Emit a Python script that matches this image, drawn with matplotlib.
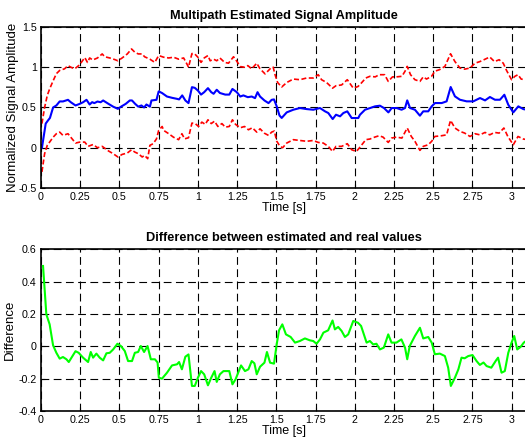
import numpy as np
import matplotlib
matplotlib.use("Agg")
from matplotlib import pyplot as plt

plt.rcParams["font.family"] = ["Liberation Sans", "DejaVu Sans"]

# estimated amplitude (blue)
est_t = [0.006, 0.03, 0.045, 0.057, 0.077, 0.098, 0.119, 0.14, 0.172, 0.19, 0.22, 0.247,
         0.268, 0.29, 0.31, 0.326, 0.34, 0.36, 0.38, 0.396, 0.43, 0.46, 0.49, 0.51, 0.54,
         0.566, 0.58, 0.60, 0.62, 0.64, 0.657, 0.672, 0.694, 0.704, 0.736, 0.75, 0.771,
         0.803, 0.835, 0.867, 0.88, 0.90, 0.92, 0.94, 0.962, 0.98, 1.0, 1.02, 1.04, 1.064,
         1.085, 1.10, 1.12, 1.14, 1.174, 1.2, 1.22, 1.248, 1.27, 1.29, 1.318, 1.343, 1.364,
         1.38, 1.396, 1.424, 1.45, 1.47, 1.485, 1.502, 1.52, 1.534, 1.566, 1.608, 1.65,
         1.693, 1.735, 1.778, 1.81, 1.831, 1.859, 1.88, 1.906, 1.927, 1.952, 1.98, 2.022,
         2.033, 2.065, 2.097, 2.129, 2.16, 2.186, 2.214, 2.235, 2.267, 2.298, 2.32, 2.334,
         2.352, 2.383, 2.415, 2.436, 2.468, 2.49, 2.511, 2.554, 2.585, 2.611, 2.638, 2.67,
         2.713, 2.755, 2.798, 2.83, 2.861, 2.893, 2.925, 2.953, 2.978, 3.01, 3.042, 3.074,
         3.1]
est_v = [0.0, 0.30, 0.34, 0.37, 0.50, 0.525, 0.575, 0.575, 0.595, 0.565, 0.525, 0.545,
         0.565, 0.595, 0.537, 0.566, 0.554, 0.574, 0.565, 0.587, 0.545, 0.51, 0.483, 0.51,
         0.545, 0.587, 0.587, 0.545, 0.51, 0.525, 0.50, 0.537, 0.51, 0.587, 0.595, 0.70,
         0.68, 0.636, 0.62, 0.607, 0.60, 0.65, 0.587, 0.554, 0.752, 0.744, 0.71, 0.66, 0.69,
         0.74, 0.69, 0.67, 0.72, 0.68, 0.66, 0.66, 0.73, 0.69, 0.636, 0.65, 0.628, 0.636,
         0.616, 0.69, 0.636, 0.587, 0.554, 0.595, 0.60, 0.515, 0.40, 0.37, 0.439, 0.472,
         0.493, 0.48, 0.472, 0.493, 0.452, 0.431, 0.356, 0.41, 0.39, 0.431, 0.452, 0.369,
         0.369, 0.41, 0.472, 0.493, 0.514, 0.522, 0.493, 0.439, 0.493, 0.493, 0.472, 0.493,
         0.588, 0.493, 0.472, 0.398, 0.452, 0.452, 0.514, 0.555, 0.555, 0.576, 0.754, 0.638,
         0.596, 0.576, 0.576, 0.617, 0.588, 0.63, 0.596, 0.596, 0.658, 0.534, 0.439, 0.514,
         0.48, 0.47]

# upper bound (red dashed)
up_t = [0.006, 0.023, 0.04, 0.055, 0.077, 0.098, 0.119, 0.15, 0.172, 0.19, 0.215, 0.24,
        0.257, 0.279, 0.296, 0.31, 0.33, 0.36, 0.39, 0.406, 0.438, 0.47, 0.49, 0.517, 0.55,
        0.577, 0.598, 0.62, 0.645, 0.66, 0.694, 0.725, 0.75, 0.782, 0.814, 0.845, 0.877,
        0.909, 0.93, 0.94, 0.962, 0.98, 1.0, 1.02, 1.04, 1.064, 1.078, 1.10, 1.12, 1.14,
        1.17, 1.195, 1.227, 1.248, 1.27, 1.297, 1.318, 1.343, 1.375, 1.396, 1.428, 1.45,
        1.47, 1.48, 1.49, 1.508, 1.534, 1.566, 1.608, 1.65, 1.693, 1.735, 1.767, 1.788,
        1.82, 1.858, 1.88, 1.916, 1.952, 1.99, 2.02, 2.04, 2.07, 2.096, 2.13, 2.155, 2.19,
        2.213, 2.24, 2.265, 2.30, 2.32, 2.334, 2.355, 2.383, 2.415, 2.436, 2.457, 2.489,
        2.51, 2.54, 2.574, 2.61, 2.638, 2.67, 2.70, 2.734, 2.766, 2.797, 2.823, 2.86, 2.89,
        2.92, 2.946, 2.967, 2.999, 3.02, 3.04, 3.06, 3.083, 3.1]
up_v = [0.30, 0.50, 0.65, 0.73, 0.83, 0.92, 0.96, 0.98, 1.02, 1.0, 0.98, 1.02, 1.06, 1.12,
        1.06, 1.115, 1.09, 1.115, 1.165, 1.13, 1.115, 1.095, 1.08, 1.115, 1.165, 1.227,
        1.186, 1.165, 1.165, 1.13, 1.10, 1.06, 1.145, 1.124, 1.115, 1.124, 1.10, 1.115,
        1.04, 1.0, 1.17, 1.165, 1.124, 1.06, 1.115, 1.145, 1.08, 1.10, 1.08, 1.115, 1.06,
        1.05, 1.13, 1.074, 1.008, 1.0, 1.02, 0.98, 1.05, 0.98, 0.917, 0.96, 1.0, 1.0,
        0.917, 0.81, 0.754, 0.81, 0.853, 0.845, 0.866, 0.866, 0.907, 0.845, 0.81, 0.74,
        0.77, 0.78, 0.845, 0.74, 0.76, 0.80, 0.866, 0.887, 0.88, 0.907, 0.907, 0.824,
        0.88, 0.88, 0.887, 0.95, 1.01, 0.907, 0.845, 0.824, 0.88, 0.853, 0.887, 0.95,
        0.97, 1.01, 1.167, 1.07, 0.99, 0.976, 0.99, 1.05, 1.07, 1.093, 1.127, 1.07, 1.093,
        1.05, 0.96, 0.845, 0.887, 0.907, 0.853, 0.845, 0.84]

# lower bound (red dashed)
lo_t = [0.006, 0.023, 0.04, 0.055, 0.077, 0.098, 0.119, 0.14, 0.172, 0.19, 0.22, 0.247,
        0.279, 0.30, 0.332, 0.36, 0.39, 0.43, 0.46, 0.49, 0.517, 0.55, 0.577, 0.598, 0.62,
        0.645, 0.66, 0.68, 0.694, 0.715, 0.736, 0.75, 0.772, 0.782, 0.814, 0.845, 0.877,
        0.898, 0.915, 0.94, 0.962, 0.983, 1.004, 1.025, 1.047, 1.064, 1.085, 1.106, 1.127,
        1.153, 1.174, 1.2, 1.22, 1.24, 1.27, 1.297, 1.322, 1.347, 1.375, 1.396, 1.424,
        1.45, 1.47, 1.487, 1.502, 1.523, 1.54, 1.566, 1.608, 1.65, 1.693, 1.735, 1.767,
        1.799, 1.831, 1.858, 1.88, 1.916, 1.952, 1.98, 2.01, 2.03, 2.07, 2.096, 2.127,
        2.155, 2.18, 2.213, 2.234, 2.265, 2.30, 2.334, 2.36, 2.383, 2.415, 2.436, 2.468,
        2.49, 2.51, 2.553, 2.585, 2.61, 2.638, 2.67, 2.70, 2.734, 2.766, 2.797, 2.83, 2.86,
        2.89, 2.92, 2.95, 2.975, 3.01, 3.04, 3.074, 3.1]
lo_v = [-0.30, -0.074, 0.03, 0.07, 0.13, 0.174, 0.194, 0.153, 0.174, 0.13, 0.058, 0.07,
        0.07, 0.017, 0.04, 0.0, 0.017, -0.04, -0.074, -0.115, -0.083, -0.066, -0.025,
        -0.054, -0.074, -0.115, -0.095, -0.136, 0.03, 0.05, 0.11, 0.215, 0.264, 0.215,
        0.174, 0.13, 0.10, 0.174, 0.11, 0.124, 0.306, 0.30, 0.264, 0.318, 0.29, 0.347,
        0.30, 0.33, 0.264, 0.30, 0.256, 0.264, 0.347, 0.29, 0.248, 0.264, 0.223, 0.248,
        0.194, 0.235, 0.18, 0.153, 0.194, 0.207, 0.083, 0.017, 0.0, 0.058, 0.10, 0.09,
        0.08, 0.09, 0.066, 0.058, 0.017, -0.046, 0.017, 0.017, 0.05, -0.025, -0.046, 0.0,
        0.10, 0.108, 0.132, 0.149, 0.132, 0.066, 0.12, 0.132, 0.12, 0.245, 0.14, 0.08,
        -0.033, 0.017, 0.037, 0.08, 0.14, 0.149, 0.16, 0.34, 0.245, 0.203, 0.182, 0.14,
        0.174, 0.16, 0.19, 0.16, 0.19, 0.182, 0.245, 0.14, 0.037, 0.14, 0.108, 0.10]

# difference between estimated and real (green)
diff_t = [0.013, 0.023, 0.034, 0.055, 0.077, 0.098, 0.119, 0.14, 0.162, 0.177, 0.194,
          0.22, 0.24, 0.268, 0.30, 0.317, 0.332, 0.353, 0.374, 0.396, 0.417, 0.438, 0.46,
          0.487, 0.509, 0.534, 0.555, 0.58, 0.598, 0.619, 0.636, 0.657, 0.679, 0.70,
          0.726, 0.743, 0.751, 0.771, 0.803, 0.835, 0.867, 0.88, 0.898, 0.92, 0.94, 0.962,
          0.98, 1.0, 1.02, 1.04, 1.064, 1.085, 1.106, 1.12, 1.14, 1.163, 1.2, 1.22, 1.24,
          1.275, 1.30, 1.322, 1.343, 1.36, 1.375, 1.396, 1.424, 1.44, 1.46, 1.485, 1.502,
          1.517, 1.538, 1.561, 1.591, 1.619, 1.65, 1.682, 1.714, 1.735, 1.756, 1.778, 1.80,
          1.83, 1.858, 1.873, 1.894, 1.916, 1.937, 1.958, 1.99, 2.02, 2.04, 2.075, 2.096,
          2.117, 2.138, 2.16, 2.185, 2.213, 2.234, 2.265, 2.297, 2.32, 2.334, 2.35, 2.383,
          2.415, 2.436, 2.468, 2.49, 2.51, 2.542, 2.574, 2.595, 2.612, 2.638, 2.66, 2.68,
          2.70, 2.723, 2.75, 2.776, 2.797, 2.82, 2.84, 2.87, 2.90, 2.913, 2.935, 2.956,
          2.978, 2.999, 3.016, 3.035, 3.056, 3.077, 3.1]
diff_v = [0.497, 0.35, 0.198, 0.136, 0.006, -0.04, -0.076, -0.066, -0.08, -0.097, -0.07,
          -0.03, -0.04, -0.07, -0.097, -0.035, -0.07, -0.045, -0.07, -0.087, -0.043, -0.04,
          -0.019, 0.016, 0.002, -0.029, -0.091, -0.091, -0.04, -0.035, 0.002, -0.035,
          0.002, -0.08, -0.08, -0.10, -0.194, -0.2, -0.163, -0.118, -0.111, -0.097, -0.142,
          -0.064, -0.05, -0.245, -0.245, -0.194, -0.153, -0.173, -0.241, -0.194, -0.153,
          -0.22, -0.173, -0.153, -0.153, -0.235, -0.204, -0.118, -0.153, -0.142, -0.091,
          -0.105, -0.173, -0.126, -0.101, -0.035, -0.101, -0.107, 0.012, 0.099, 0.136,
          0.074, 0.058, 0.023, 0.033, 0.049, 0.037, 0.033, 0.016, 0.043, 0.085, 0.099, 0.16,
          0.105, 0.12, 0.095, 0.058, 0.074, 0.157, 0.146, 0.126, 0.023, 0.033, 0.012, 0.016,
          -0.019, -0.008, 0.074, 0.023, 0.023, 0.043, -0.008, -0.08, 0.002, 0.064, 0.115,
          0.049, 0.058, 0.023, -0.049, -0.045, -0.06, -0.132, -0.245, -0.194, -0.142, -0.07,
          -0.074, -0.06, -0.054, -0.091, -0.115, -0.1, -0.122, -0.132, -0.087, -0.07,
          -0.163, -0.153, -0.04, 0.023, 0.064, -0.019, -0.004, 0.023, 0.04]

x_ticks = [0, 0.25, 0.5, 0.75, 1, 1.25, 1.5, 1.75, 2, 2.25, 2.5, 2.75, 3]
x_labels = ["0", "0.25", "0.5", "0.75", "1", "1.25", "1.5", "1.75", "2", "2.25", "2.5",
            "2.75", "3"]
top_yticks = [-0.5, 0, 0.5, 1, 1.5]
top_ylabels = ["-0.5", "0", "0.5", "1", "1.5"]
bot_yticks = [-0.4, -0.2, 0, 0.2, 0.4, 0.6]
bot_ylabels = ["-0.4", "-0.2", "0", "0.2", "0.4", "0.6"]

fig = plt.figure(figsize=(5.25, 4.42), dpi=100)
ax1 = fig.add_axes([0.0781, 0.5747, 0.9265, 0.3643])
ax2 = fig.add_axes([0.0781, 0.0701, 0.9265, 0.3658])


def style(ax, yticks, ylabels):
    ax.set_xlim(0, 3.1)
    ax.set_xticks(x_ticks)
    ax.set_xticklabels(x_labels)
    ax.set_yticks(yticks)
    ax.set_yticklabels(ylabels)
    ax.tick_params(direction="in", length=3, width=0.8, labelsize=7.7, pad=3)
    ax.grid(True, color="k", linestyle=(0, (7, 4)), linewidth=0.8)
    for s in ax.spines.values():
        s.set_linewidth(1.2)
    ax.set_xlabel("Time [s]", fontsize=9, labelpad=0)


ax1.plot(up_t, up_v, color="red", linestyle=(0, (3, 1.5)), linewidth=1.2)
ax1.plot(lo_t, lo_v, color="red", linestyle=(0, (3, 1.5)), linewidth=1.2)
ax1.plot(est_t, est_v, color="blue", linewidth=1.5)
ax1.set_ylim(-0.5, 1.5)
style(ax1, top_yticks, top_ylabels)
ax1.set_title("Multipath Estimated Signal Amplitude", fontsize=9.2, fontweight="bold", pad=6)
ax1.set_ylabel("Normalized Signal Amplitude", fontsize=9.5, labelpad=0)

ax2.plot(diff_t, diff_v, color=(0, 1, 0), linewidth=1.5)
ax2.set_ylim(-0.4, 0.6)
style(ax2, bot_yticks, bot_ylabels)
ax2.set_title("Difference between estimated and real values", fontsize=9.2,
              fontweight="bold", pad=6)
ax2.set_ylabel("Difference", fontsize=9.5, labelpad=2)

fig.savefig("out.png", dpi=100)
